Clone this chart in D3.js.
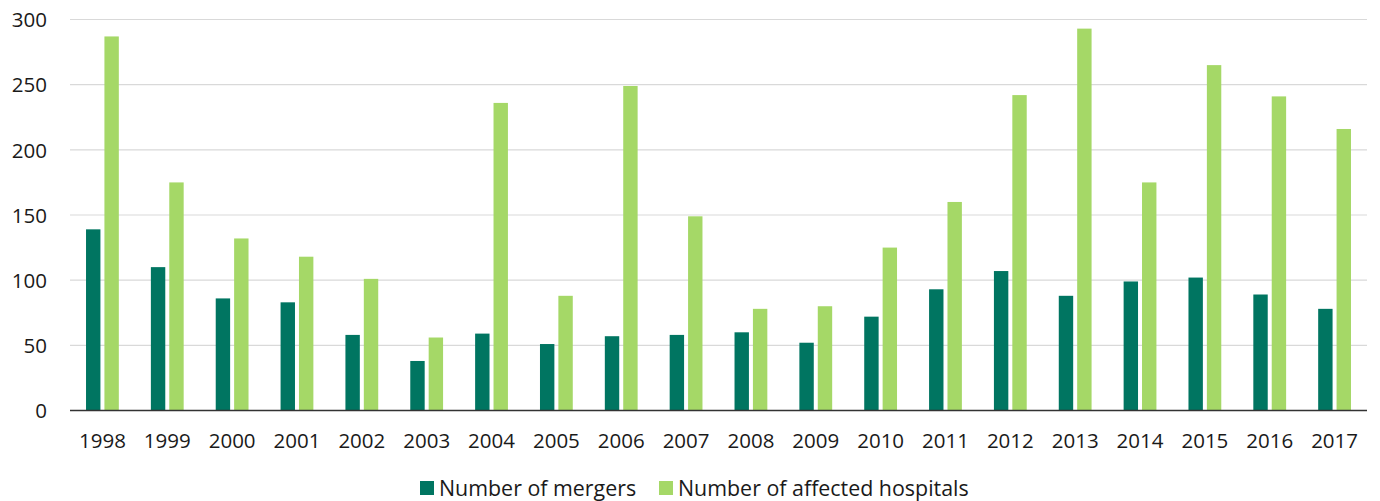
<!DOCTYPE html>
<html><head><meta charset="utf-8">
<script src="https://cdn.jsdelivr.net/npm/d3@7"></script>
<style>body{margin:0;background:#fff}svg{display:block}text{font-family:"Open Sans",sans-serif;fill:#1a1a1a}</style>
</head><body><svg id="c" width="1380" height="501"></svg>
<script>
const years = ["1998","1999","2000","2001","2002","2003","2004","2005","2006","2007","2008","2009","2010","2011","2012","2013","2014","2015","2016","2017"];
const mergers = [139,110,86,83,58,38,59,51,57,58,60,52,72,93,107,88,99,102,89,78];
const hospitals = [287,175,132,118,101,56,236,88,249,149,78,80,125,160,242,293,175,265,241,216];
const seriesNames = ["Number of mergers","Number of affected hospitals"];
const yTicks = [0,50,100,150,200,250,300];

(function(){
const colors = ["#007561","#a5d867"];
const svg = d3.select("#c");
const pL = 70, pR = 1367, pT = 19.5, pB = 410.5;
const x = d3.scaleBand().domain(years).range([pL,pR]).paddingInner(0).paddingOuter(0);
const y = d3.scaleLinear().domain([0,300]).range([pB,pT]);
const bw = 14.4, gap = 4;

svg.append("g").selectAll("line").data(yTicks.filter(d=>d>0)).join("line")
  .attr("x1",pL).attr("x2",pR).attr("y1",d=>y(d)).attr("y2",d=>y(d))
  .attr("stroke","#d9d9d9").attr("stroke-width",1.2);

const yAxis = d3.axisLeft(y).tickValues(yTicks).tickSize(0).tickPadding(0);
const ga = svg.append("g").attr("transform","translate(47,0)").call(yAxis);
ga.select(".domain").remove();
ga.selectAll("text").attr("font-size","20.5px").attr("font-family","Open Sans").attr("fill","#1a1a1a").attr("dy","0.35em");

const series = [mergers, hospitals];
series.forEach((vals,si)=>{
  svg.append("g").selectAll("rect").data(vals).join("rect")
    .attr("x",(d,i)=>x(years[i]) + x.bandwidth()/2 - bw - gap/2 + si*(bw+gap))
    .attr("width",bw)
    .attr("y",d=>y(d)).attr("height",d=>pB-y(d))
    .attr("fill",colors[si]);
});

svg.append("line").attr("x1",pL).attr("x2",pR).attr("y1",pB).attr("y2",pB)
  .attr("stroke","#333").attr("stroke-width",1.5);

const xAxis = d3.axisBottom(x).tickSize(0).tickPadding(0);
const gx = svg.append("g").attr("transform",`translate(0,${pB})`).call(xAxis);
gx.select(".domain").remove();
gx.selectAll("text").attr("font-size","20.5px").attr("font-family","Open Sans").attr("fill","#1a1a1a").attr("dy",0).attr("y",37);

const leg = svg.append("g");
const legX = [420, 659];
seriesNames.forEach((n,i)=>{
  leg.append("rect").attr("x",legX[i]).attr("y",481).attr("width",14).attr("height",14).attr("fill",colors[i]);
  leg.append("text").attr("x",legX[i]+19).attr("y",496).attr("font-size","21.4px").text(n);
});
})();
</script></body></html>
